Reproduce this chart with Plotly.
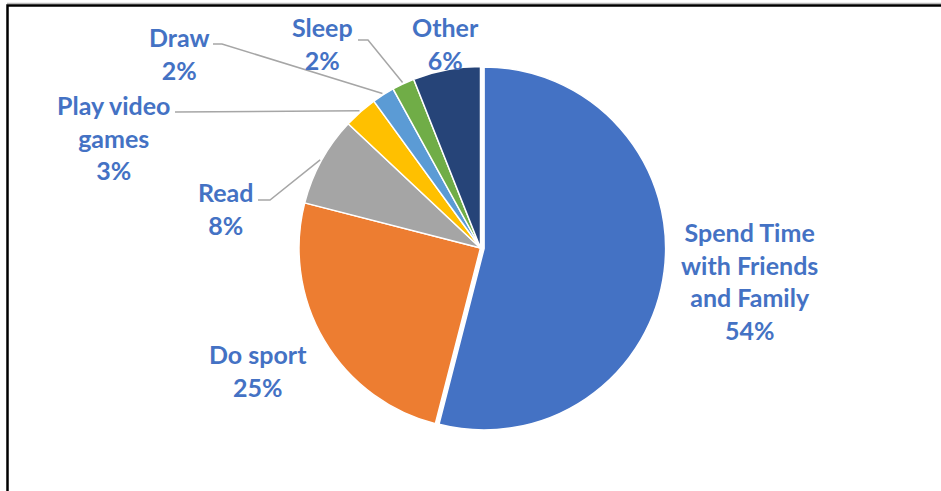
import math
import plotly.graph_objects as go

labels = ["Spend Time<br>with Friends<br>and Family", "Do sport", "Read",
          "Play video<br>games", "Draw", "Sleep", "Other"]
values = [54, 25, 8, 3, 2, 2, 6]
colors = ["#4472C4", "#ED7D31", "#A5A5A5", "#FFC000", "#5B9BD5", "#70AD47", "#264478"]

W, H = 941, 491
CX, CY, R = 480.5, 248.0, 181.5
PULL = [0.02, 0, 0, 0, 0, 0, 0]
half = R * (1 + max(PULL))

# label centres (px) and leader-line start points (px)
label_pos = [(749, 281), (258, 370), (225, 208), (113, 137), (179, 54), (322, 44), (445, 44)]
leader_start = [None, None, [(258, 200), (270, 200)], [(175, 112)],
                [(213, 44), (222, 44)], [(358, 40), (368, 40)], None]

def px(x):
    return x / W

def py(y):
    return 1 - y / H

fig = go.Figure(go.Pie(
    labels=[l.replace("<br>", " ") for l in labels],
    values=values,
    sort=False,
    direction="clockwise",
    rotation=0,
    pull=PULL,
    marker=dict(colors=colors, line=dict(color="white", width=1.5)),
    textinfo="none",
    hoverinfo="label+percent",
    domain=dict(x=[px(CX - half), px(CX + half)], y=[py(CY + half), py(CY - half)]),
    showlegend=False,
))

total = sum(values)
annotations = []
shapes = []
cum = 0
for lab, v, pos, ls in zip(labels, values, label_pos, leader_start):
    pct = round(100 * v / total)
    mid = (cum + v / 2) / total * 2 * math.pi
    cum += v
    annotations.append(dict(
        x=px(pos[0]), y=py(pos[1]), xref="paper", yref="paper",
        text=f"{lab}<br>{pct}%", showarrow=False,
        xanchor="center", yanchor="middle", align="center",
        font=dict(family="Lato", size=25, color="#4472C4", weight="bold"),
    ))
    if ls:
        ex = CX + (R + 1.5) * math.sin(mid)
        ey = CY - (R + 1.5) * math.cos(mid)
        pts = ls + [(ex, ey)]
        path = "M " + " L ".join(f"{px(a):.5f},{py(b):.5f}" for a, b in pts)
        shapes.append(dict(type="path", xref="paper", yref="paper", path=path,
                           line=dict(color="#A6A6A6", width=1.5)))

# chart frame
shapes.append(dict(type="line", xref="paper", yref="paper", x0=px(7), x1=1.05,
                   y0=py(3.5), y1=py(3.5), line=dict(color="#BBBBBB", width=1.5)))
shapes.append(dict(type="rect", xref="paper", yref="paper", x0=px(7.5), x1=1.05,
                   y0=-0.05, y1=py(5.5), line=dict(color="black", width=2.5)))

fig.update_layout(
    width=W, height=H,
    margin=dict(l=0, r=0, t=0, b=0),
    paper_bgcolor="white", plot_bgcolor="white",
    annotations=annotations, shapes=shapes,
)
fig.write_html("out.html")
